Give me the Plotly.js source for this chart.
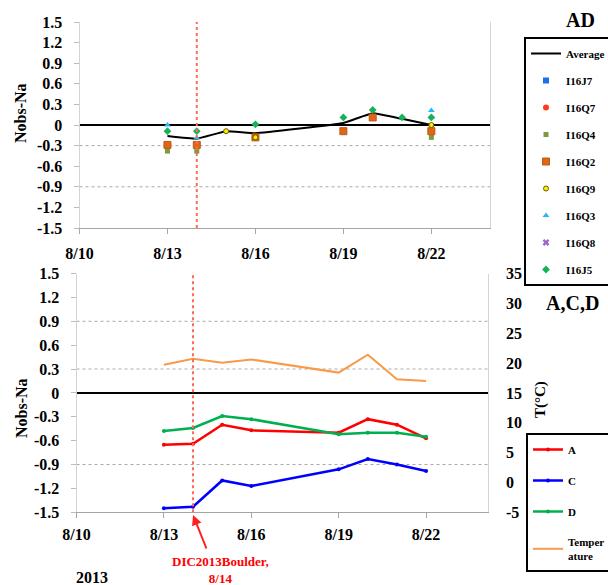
<!DOCTYPE html>
<html>
<head>
<meta charset="utf-8">
<script src="https://cdn.plot.ly/plotly-3.0.1.min.js"></script>
<style>html,body{margin:0;padding:0;background:#fff;}</style>
</head>
<body>
<div id="chart" style="width:608px;height:585px;"></div>
<script>
// ---- data ----
const avgDates = ['2013-08-13','2013-08-14','2013-08-15','2013-08-16','2013-08-19','2013-08-20','2013-08-21','2013-08-22'];
const avgValues = [-0.16, -0.20, -0.09, -0.12, 0.03, 0.17, 0.09, 0.0];

// series listed in the legend but with no visible points in the chart
const i16j7Dates = ['2013-08-13'];  const i16j7Values = [null];
const i16q7Dates = ['2013-08-13'];  const i16q7Values = [null];
const i16q8Dates = ['2013-08-13'];  const i16q8Values = [null];

const i16q4Dates = ['2013-08-13','2013-08-14','2013-08-22'];
const i16q4Values = [-0.38, -0.38, -0.18];
const i16q2Dates = ['2013-08-13','2013-08-14','2013-08-16','2013-08-19','2013-08-20','2013-08-22'];
const i16q2Values = [-0.29, -0.29, -0.18, -0.09, 0.11, -0.09];
const i16q9Dates = ['2013-08-15','2013-08-16','2013-08-22'];
const i16q9Values = [-0.09, -0.18, 0.0];
const i16q3Dates = ['2013-08-13','2013-08-14','2013-08-22'];
const i16q3Values = [0.0, -0.19, 0.21];
const i16j5Dates = ['2013-08-13','2013-08-14','2013-08-16','2013-08-19','2013-08-20','2013-08-21','2013-08-22'];
const i16j5Values = [-0.09, -0.09, 0.01, 0.11, 0.22, 0.11, 0.11];

const acdDates = ['2013-08-13','2013-08-14','2013-08-15','2013-08-16','2013-08-19','2013-08-20','2013-08-21','2013-08-22'];
const aValues = [-0.65, -0.64, -0.40, -0.47, -0.50, -0.33, -0.40, -0.57];
const cValues = [-1.45, -1.43, -1.10, -1.17, -0.96, -0.83, -0.90, -0.98];
const dValues = [-0.48, -0.44, -0.29, -0.33, -0.52, -0.50, -0.50, -0.55];
const tempValues = [19.7, 20.7, 20.05, 20.6, 18.4, 21.4, 17.3, 17.0];

const xTickVals = ['2013-08-10','2013-08-13','2013-08-16','2013-08-19','2013-08-22'];
const xTickText = ['8/10','8/13','8/16','8/19','8/22'];
const yTickVals = [1.5, 1.2, 0.9, 0.6, 0.3, 0, -0.3, -0.6, -0.9, -1.2, -1.5];
const yTickText = ['1.5','1.2','0.9','0.6','0.3','0','-0.3','-0.6','-0.9','-1.2','-1.5'];
const tTickVals = [35, 30, 25, 20, 15, 10, 5, 0, -5];
const tTickText = ['35','30','25','20','15','10','5','0','-5'];
const eventDate = '2013-08-14';

// ---- traces ----
function pts(name, x, y, marker, grp) {
  return {type:'scatter', mode:'markers', name:name, x:x, y:y, xaxis:'x', yaxis:'y',
          marker:marker, legend:'legend', legendgroup:grp, cliponaxis:false, showlegend:true};
}
const traces = [
  {type:'scatter', mode:'lines', name:'Average', x:avgDates, y:avgValues, xaxis:'x', yaxis:'y',
   line:{color:'#000000', width:2, shape:'spline', smoothing:0.3}, legend:'legend', legendgroup:'g0'},
  pts('I16J7', i16j7Dates, i16j7Values, {symbol:'square', size:6, color:'#1f6fe8'}, 'g1'),
  pts('I16Q7', i16q7Dates, i16q7Values, {symbol:'circle', size:6, color:'#ff3b1a'}, 'g2'),
  pts('I16Q4', i16q4Dates, i16q4Values, {symbol:'square', size:5, color:'#7d9a3c'}, 'g3'),
  pts('I16Q2', i16q2Dates, i16q2Values, {symbol:'square', size:7, color:'#e0660f', line:{color:'#b85a20', width:1}}, 'g4'),
  pts('I16Q9', i16q9Dates, i16q9Values, {symbol:'circle', size:5, color:'#ffee00', line:{color:'#6b5a00', width:1}}, 'g5'),
  pts('I16Q3', i16q3Dates, i16q3Values, {symbol:'triangle-up', size:6, color:'#29b6f6'}, 'g6'),
  pts('I16Q8', i16q8Dates, i16q8Values, {symbol:'x', size:6, color:'#9b6ac8'}, 'g7'),
  pts('I16J5', i16j5Dates, i16j5Values, {symbol:'diamond', size:6, color:'#14b35a'}, 'g8'),

  {type:'scatter', mode:'lines+markers', name:'A', x:acdDates, y:aValues, xaxis:'x2', yaxis:'y2',
   line:{color:'#ff0000', width:2.5}, marker:{size:4, color:'#ff0000'}, legend:'legend2', legendgroup:'h0'},
  {type:'scatter', mode:'lines+markers', name:'C', x:acdDates, y:cValues, xaxis:'x2', yaxis:'y2',
   line:{color:'#0000ff', width:2.5}, marker:{size:4, color:'#0000ff'}, legend:'legend2', legendgroup:'h1'},
  {type:'scatter', mode:'lines+markers', name:'D', x:acdDates, y:dValues, xaxis:'x2', yaxis:'y2',
   line:{color:'#00b050', width:2.5}, marker:{size:4, color:'#00b050'}, legend:'legend2', legendgroup:'h2'},
  {type:'scatter', mode:'lines', name:'Temper<br>ature', x:acdDates, y:tempValues, xaxis:'x2', yaxis:'y3',
   line:{color:'#f79a4a', width:2}, legend:'legend2', legendgroup:'h3'}
];

const W = 608, H = 585;
const px = v => v / W, py = v => 1 - v / H;
const axFont = {family:'Liberation Serif', size:16, color:'#000', weight:'bold'};

const xCommon = {type:'date', tickvals:xTickVals, ticktext:xTickText, showgrid:false, zeroline:false,
  showline:true, linecolor:'#a6a6a6', linewidth:1, ticks:'outside', ticklen:5, tickcolor:'#a6a6a6',
  tickfont:axFont, fixedrange:true};
const yCommon = {tickvals:yTickVals, ticktext:yTickText, showgrid:false, zeroline:true,
  zerolinecolor:'#000', zerolinewidth:1.5, showline:true, linecolor:'#d4d4d4', linewidth:1, mirror:true,
  ticks:'outside', ticklen:5, tickcolor:'#bdbdbd', tickfont:axFont, ticklabelstandoff:8, range:[-1.5,1.5]};

function hline(yref, xref, val) {
  return {type:'line', xref:xref + ' domain', x0:0, x1:1, yref:yref, y0:val, y1:val,
          line:{color:'#a8a8a8', width:1, dash:'dot'}, layer:'below'};
}
function vline(xref, yref) {
  return {type:'line', xref:xref, x0:eventDate, x1:eventDate, yref:yref + ' domain', y0:0, y1:1,
          line:{color:'#ff6a5a', width:2, dash:'3px,3px'}};
}
function note(text, x, y, size, extra) {
  return Object.assign({text:text, xref:'paper', yref:'paper', x:px(x), y:py(y), xanchor:'center', yanchor:'middle',
    showarrow:false, font:{family:'Liberation Serif', size:size, weight:'bold', color:'#000'}}, extra || {});
}

const layout = {
  width:W, height:H, autosize:false,
  margin:{l:0, r:0, t:0, b:0, autoexpand:false},
  paper_bgcolor:'#fff', plot_bgcolor:'rgba(0,0,0,0)',
  font:{family:'Liberation Serif', size:14, color:'#000', weight:'bold'},
  xaxis:Object.assign({}, xCommon, {domain:[px(79.5), px(490)], anchor:'y', range:['2013-08-10','2013-08-24'], ticklabelstandoff:6}),
  yaxis:Object.assign({}, yCommon, {domain:[py(228), py(22)], anchor:'x'}),
  xaxis2:Object.assign({}, xCommon, {domain:[px(76.5), px(488)], anchor:'y2', range:['2013-08-10','2013-08-24 03:00'], ticklabelstandoff:2}),
  yaxis2:Object.assign({}, yCommon, {domain:[py(512.3), py(273.5)], anchor:'x2'}),
  yaxis3:{overlaying:'y2', anchor:'x2', side:'right', range:[-5,35], tickvals:tTickVals, ticktext:tTickText,
    showgrid:false, zeroline:false, showline:false, ticks:'', tickfont:axFont, ticklabelstandoff:17},
  showlegend:true,
  legend:{x:px(524), y:py(37), xanchor:'left', yanchor:'top', xref:'paper', yref:'paper',
    bgcolor:'#fff', bordercolor:'#000', borderwidth:2, traceorder:'grouped', tracegroupgap:8,
    font:{family:'Liberation Serif', size:11, color:'#000', weight:'bold'}, itemclick:false},
  legend2:{x:px(526), y:py(433), xanchor:'left', yanchor:'top', xref:'paper', yref:'paper',
    bgcolor:'#fff', bordercolor:'#000', borderwidth:2, traceorder:'grouped', tracegroupgap:12,
    font:{family:'Liberation Serif', size:11, color:'#000', weight:'bold'}, itemclick:false},
  shapes:[
    hline('y','x',-0.3), hline('y','x',-0.9),
    hline('y2','x2',0.9), hline('y2','x2',0.3), hline('y2','x2',-0.9),
    vline('x','y'), vline('x2','y2')
  ],
  annotations:[
    note('AD', 580, 20, 20),
    note('A,C,D', 572, 303, 20),
    note('Nobs-Na', 21, 113, 16, {textangle:-90}),
    note('Nobs-Na', 21, 408, 16, {textangle:-90}),
    note('T(°C)', 540, 400, 15, {textangle:-90}),
    note('2013', 92, 577, 16),
    note('DIC2013Boulder,<br>8/14', 220, 570, 13, {font:{family:'Liberation Serif', size:13, weight:'bold', color:'#ff0000'}}),
    {text:'', xref:'x2', yref:'paper', x:eventDate, y:py(515), showarrow:true, ax:14, ay:35,
     arrowhead:2, arrowsize:1, arrowwidth:2, arrowcolor:'#ff2020'}
  ]
};

Plotly.newPlot('chart', traces, layout, {staticPlot:true, displayModeBar:false});
</script>
</body>
</html>
